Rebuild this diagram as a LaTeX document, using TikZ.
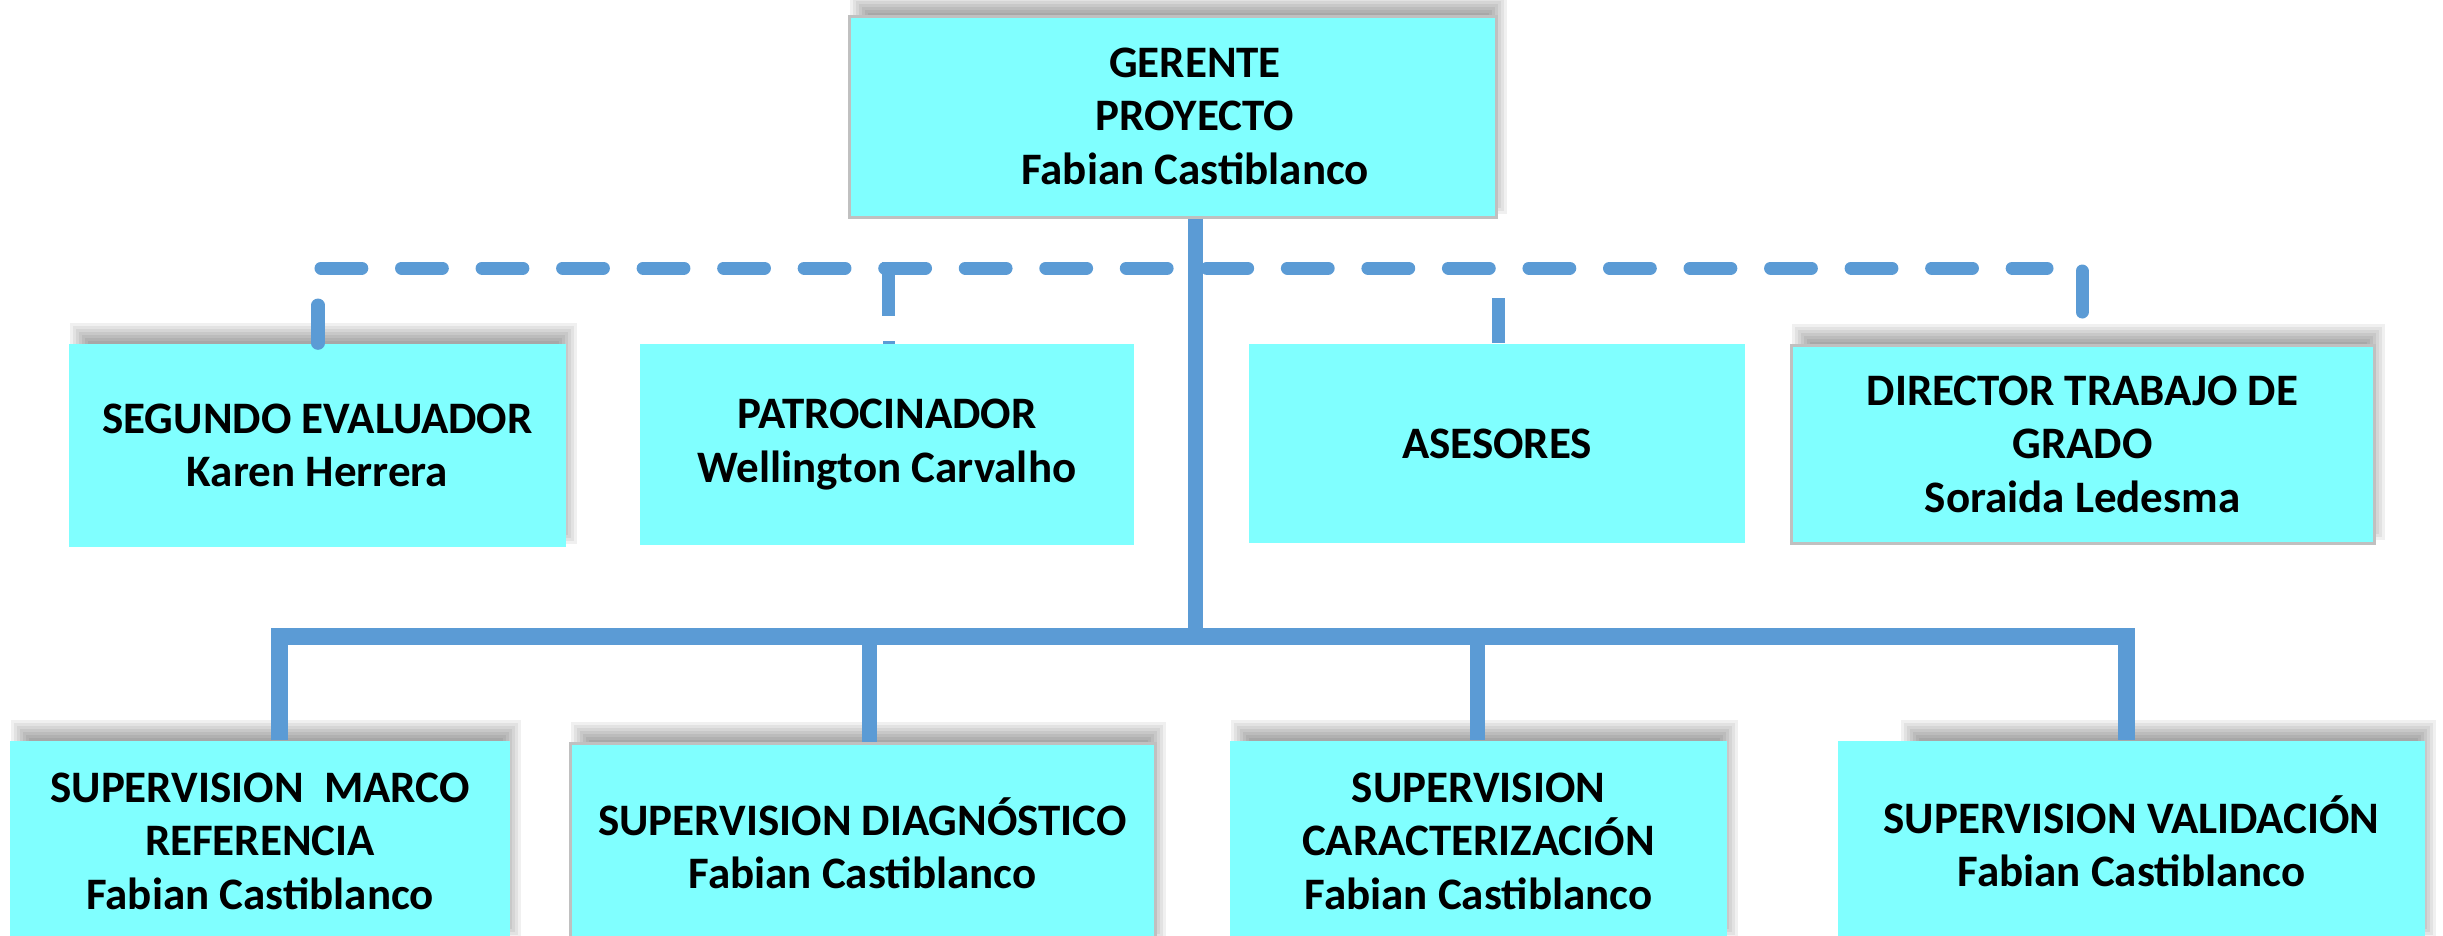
\documentclass[tikz,border=0pt]{standalone}
\usepackage{fontspec}
\setmainfont{Carlito}
\usetikzlibrary{calc}
\definecolor{boxcyan}{HTML}{80FFFF}
\definecolor{lineblue}{HTML}{5B9BD5}
\definecolor{boxgray}{HTML}{C0C0C0}
\newdimen\pxu \pxu=0.01cm
% shadow: #1..#4 = x1,y1,x2,y2 (pixel coords, y down)
\newcommand\bshadow[4]{%
  \foreach \e in {-9,-6,-3,0,3,6,9}{%
    \fill[black,opacity=0.06] ({#1+10-\e},{#2-12-\e}) rectangle ({#3+2+\e},{#4-12+\e});
  }%
}
% box node: [opts]{name}{x1}{y1}{x2}{y2}{text}
\newcommand\obox[7][]{%
  \node[orgbox,#1,minimum width={(#5-#3)*0.01cm},minimum height={(#6-#4)*0.01cm}]
    (#2) at ({(#3+#5)/2},{(#4+#6)/2}) {#7};%
}
\begin{document}
\begin{tikzpicture}[x=0.01cm,y=-0.01cm,
  orgbox/.style={rectangle,fill=boxcyan,inner sep=0pt,align=center,text=black,
    font=\fontsize{12.8}{15.2}\selectfont\bfseries},
  bordered/.style={draw=boxgray,line width=3\pxu},
  lbl/.style={align=center,inner sep=0pt,text=black,
    font=\fontsize{12.8}{15.2}\selectfont\bfseries},
  trunkline/.style={draw=lineblue,line width=15\pxu},
  barline/.style={draw=lineblue,line width=17\pxu},
  dashline/.style={draw=lineblue,line width=3.7pt,line cap=round,dash pattern=on 11.6pt off 11.3pt},
  dstub/.style={draw=lineblue,line width=3.7pt,line cap=round},
]
\useasboundingbox (0,0) rectangle (2443,935);
\clip (0,0) rectangle (2443,935);

% shadows
\bshadow{849}{16}{1496}{217}
\bshadow{69}{344}{566}{547}
\bshadow{1791}{345}{2374}{543}
\bshadow{10}{741}{510}{941}
\bshadow{570}{743}{1155}{943}
\bshadow{1230}{741}{1727}{941}
\bshadow{1900}{741}{2425}{941}

% top box
\obox[bordered]{gerente}{849}{16}{1496}{217}{}
\node[lbl] (gerenteLbl) at (1195,116) {GERENTE\\PROYECTO\\Fabian Castiblanco};

% middle row
\obox{seg}{69}{344}{566}{547}{SEGUNDO EVALUADOR\\Karen Herrera}
\obox{pat}{640}{344}{1134}{545}{PATROCINADOR\\Wellington Carvalho}
\obox{ase}{1249}{344}{1745}{543}{ASESORES}
\obox[bordered]{dir}{1791}{345}{2374}{543}{DIRECTOR TRABAJO DE\\GRADO\\Soraida Ledesma}

% bottom row
\obox{smr}{10}{741}{510}{941}{SUPERVISION\ \ MARCO\\REFERENCIA\\Fabian Castiblanco}
\obox[bordered]{sdg}{570}{743}{1155}{943}{SUPERVISION DIAGNÓSTICO\\Fabian Castiblanco}
\obox{scr}{1230}{741}{1727}{941}{SUPERVISION\\CARACTERIZACIÓN\\Fabian Castiblanco}
\obox{svl}{1838}{741}{2425}{941}{SUPERVISION VALIDACIÓN\\Fabian Castiblanco}

% solid hierarchy
\coordinate (tk) at (1195,636);
\coordinate (b1) at (279,636);
\coordinate (b2) at (869,636);
\coordinate (b3) at (1477,636);
\coordinate (b4) at (2126,636);
\draw[trunkline] (tk |- gerente.south) -- (tk);
\draw[barline] (b1 |- smr.north) -- (b1) -- (b4) -- (b4 |- svl.north);
\draw[trunkline] (b2) -- (b2 |- sdg.north);
\draw[trunkline] (b3) -- (b3 |- scr.north);

% dashed advisory line
\coordinate (d1) at (321,268);
\coordinate (d4) at (2047,268);
\draw[dashline] (d1) -- (d4);
\coordinate (s1) at (318,305);
\coordinate (s2) at (888,262);
\coordinate (s3) at (1498,304);
\coordinate (s4) at (2082,271);
\draw[dstub] (s1) -- (s1 |- seg.north);
\draw[dstub,line cap=butt] (s2) -- ++(0,54);
\fill[lineblue] (883,341) rectangle (895,344);
\draw[dstub,line cap=butt] (s3) ++(0,-6) -- (s3 |- ase.north);
\draw[dstub] (s4) -- ++(0,41);
\end{tikzpicture}
\end{document}
